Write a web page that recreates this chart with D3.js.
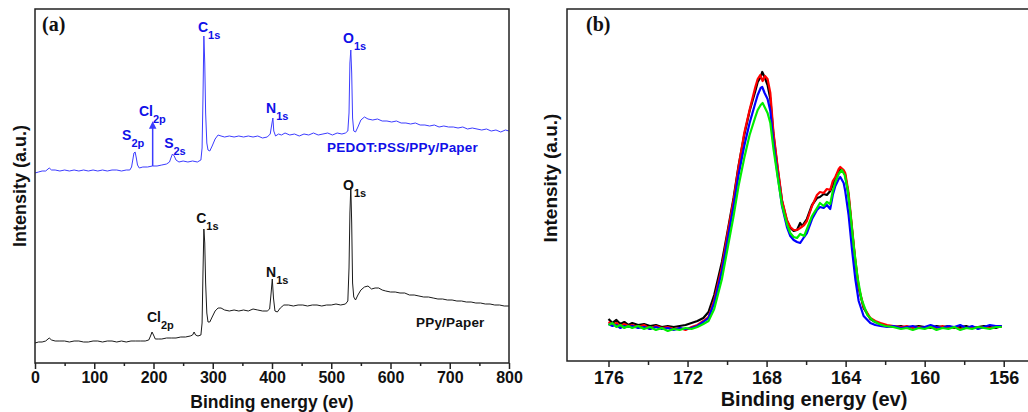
<!DOCTYPE html>
<html>
<head>
<meta charset="utf-8">
<script src="https://cdnjs.cloudflare.com/ajax/libs/d3/7.8.5/d3.min.js"></script>
<style>
  body { margin: 0; background: #fff; }
</style>
</head>
<body>
<div id="chart"></div>
<script>
var width = 1028;
var height = 412;
var sans = "'Liberation Sans', Arial, sans-serif";
var serif = "'Liberation Serif', 'Times New Roman', serif";

// ---- panel (a): survey spectra, [binding energy, intensity a.u.]
var pedotSurvey = [[0,190],[6,191],[12,192],[18,192],[24,195],[28,193],[34,193],[42,192],[50,193],[58,192],[66,193],[74,192],[82,193],[90,192],[98,193],[106,192],[114,193],[122,192],[130,193],[138,193],[146,192],[154,193],[160,193],[163,196],[165,203],[167,210],[169,211],[171,205],[173,198],[176,195],[182,196],[190,196],[198,197],[206,197],[214,198],[222,199],[227,201],[230,206],[232,209],[235,207],[238,203],[243,201],[250,202],[258,201],[266,202],[274,201],[280,203],[282,215],[283.5,265],[285,327],[286.5,300],[288,250],[290,220],[292,213],[295,212],[299,217],[304,224],[309,228],[314,227],[320,226],[328,227],[336,226],[344,227],[352,226],[360,227],[368,226],[376,227],[384,225],[392,226],[397,229],[400,240],[401.5,245],[403,232],[406,227],[411,229],[416,228],[422,230],[430,228],[438,229],[446,227],[454,229],[462,228],[470,230],[478,228],[486,229],[494,230],[502,228],[510,230],[518,229],[524,230],[528,232],[530,250],[531.5,300],[533,313],[534.5,290],[536,245],[538,232],[541,231],[545,236],[550,243],[556,246],[562,244],[570,243],[578,244],[586,242],[594,242],[602,241],[610,242],[618,240],[626,240],[634,239],[642,240],[650,238],[658,238],[666,237],[674,238],[682,236],[690,237],[698,236],[706,236],[714,235],[722,236],[730,234],[738,235],[746,234],[754,233],[762,234],[770,232],[778,233],[786,231],[794,233],[800,232]];

var ppySurvey = [[0,20],[6,21],[12,21],[18,22],[24,25],[28,23],[34,22],[42,22],[50,22],[58,21],[66,22],[74,22],[82,21],[90,21],[98,22],[106,22],[114,21],[122,22],[130,22],[138,21],[146,22],[154,21],[162,22],[170,22],[178,22],[186,22],[192,23],[195,27],[197.5,31],[200,28],[203,24],[208,24],[214,24],[222,25],[230,25],[238,25],[246,26],[254,26],[262,27],[266,28],[268.5,31],[271,28],[275,27],[280,28],[282,40],[283.5,90],[285,134],[286.5,120],[288,80],[290,50],[292,41],[295,41],[299,46],[304,52],[309,55],[314,55],[320,53],[328,52],[336,53],[344,52],[352,53],[360,52],[368,54],[376,53],[384,52],[392,52],[396,54],[398.5,70],[400.5,84],[402.5,65],[405,52],[409,51],[414,55],[420,58],[428,58],[436,57],[444,58],[452,58],[460,57],[468,58],[476,58],[484,57],[492,58],[500,58],[508,59],[516,58],[524,59],[528,62],[530,95],[531.5,150],[533,176],[534.5,140],[536,80],[538,66],[541,63],[545,68],[550,73],[556,76],[562,77],[568,74],[574,75],[580,75],[586,73],[592,72],[600,71],[608,71],[616,70],[624,70],[632,68],[640,68],[648,67],[656,66],[664,66],[672,65],[680,64],[688,64],[696,63],[704,63],[712,62],[720,62],[728,61],[736,61],[744,60],[752,60],[760,59],[768,59],[776,58],[784,58],[792,57],[800,57]];

// peak labels: [main, subscript, energy, intensity, series]
var peakLabels = [
  ["C", "1s", 275, 331, "pedot"],
  ["O", "1s", 520, 320, "pedot"],
  ["N", "1s", 390, 250, "pedot"],
  ["Cl", "2p", 175.5, 247, "pedot"],
  ["S", "2p", 147, 223, "pedot"],
  ["S", "2s", 218, 215, "pedot"],
  ["C", "1s", 272, 140, "ppy"],
  ["N", "1s", 390, 86, "ppy"],
  ["Cl", "2p", 189, 41, "ppy"],
  ["O", "1s", 520, 173, "ppy"]
];
var sampleNames = [["PEDOT:PSS/PPy/Paper", 493, 211, "pedot"], ["PPy/Paper", 643, 36, "ppy"]];
var surveyTicks = [0, 100, 200, 300, 400, 500, 600, 700, 800];

// ---- panel (b): S 2p high resolution, [binding energy, intensity a.u.]
var s2pBlack = [[176.0,42],[175.8,38],[175.6,41],[175.4,37],[175.2,39],[175.0,36],[174.8,38],[174.5,36],[174.2,37],[173.9,35],[173.6,36],[173.3,34],[173.0,35],[172.7,34],[172.4,35],[172.1,36],[171.8,38],[171.5,40],[171.2,43],[170.94,49],[170.65,66],[170.26,99],[169.97,130],[169.67,163],[169.42,195],[169.13,226],[168.86,250],[168.57,270],[168.45,279],[168.3,284],[168.22,289],[168.1,284],[167.95,276],[167.81,262],[167.65,226],[167.44,192],[167.22,160],[166.97,140],[166.8,133],[166.63,130],[166.46,131],[166.3,138],[166.2,135],[165.96,142],[165.7,156],[165.45,163],[165.3,164],[165.11,167],[164.95,166],[164.78,170],[164.65,176],[164.52,183],[164.35,190],[164.27,192],[164.1,189],[164.02,186],[163.85,165],[163.68,132],[163.51,99],[163.34,73],[163.09,53],[162.75,42],[162.5,39],[162.24,37],[161.9,35],[161.57,34],[161.2,35],[160.9,33],[160.6,34],[160.3,35],[160.0,34],[159.7,33],[159.4,35],[159.1,34],[158.8,35],[158.5,33],[158.2,34],[157.9,35],[157.6,33],[157.3,34],[157.0,35],[156.7,34],[156.4,33],[156.1,35]];

var s2pRed = [[176.0,39],[175.8,36],[175.6,38],[175.4,35],[175.2,37],[175.0,35],[174.8,36],[174.5,34],[174.2,36],[173.9,32],[173.6,35],[173.3,33],[173.0,34],[172.7,32],[172.4,33],[172.1,31],[171.8,34],[171.5,36],[171.2,40],[170.94,44],[170.65,61],[170.26,94],[169.97,128],[169.67,161],[169.42,194],[169.13,228],[168.86,251],[168.57,274],[168.45,282],[168.32,286],[168.2,280],[168.08,285],[167.95,282],[167.81,268],[167.65,228],[167.44,194],[167.22,161],[166.97,141],[166.8,134],[166.63,131],[166.46,131],[166.3,133],[166.1,136],[165.96,140],[165.7,155],[165.45,166],[165.3,169],[165.11,168],[164.95,172],[164.78,171],[164.65,180],[164.52,184],[164.35,192],[164.27,194],[164.1,191],[164.02,188],[163.85,168],[163.68,134],[163.51,101],[163.34,74],[163.09,54],[162.75,43],[162.5,40],[162.24,38],[161.9,36],[161.57,35],[161.2,34],[160.9,35],[160.6,33],[160.3,34],[160.0,33],[159.7,34],[159.4,33],[159.1,35],[158.8,33],[158.5,34],[158.2,32],[157.9,33],[157.6,34],[157.3,33],[157.0,34],[156.7,33],[156.4,34],[156.1,34]];

var s2pBlue = [[176.0,37],[175.8,35],[175.6,36],[175.4,33],[175.2,35],[175.0,34],[174.8,35],[174.5,33],[174.2,34],[173.9,32],[173.6,34],[173.3,32],[173.0,33],[172.7,31],[172.4,33],[172.1,32],[171.8,33],[171.5,35],[171.2,39],[170.94,43],[170.65,58],[170.26,90],[169.97,122],[169.67,155],[169.42,186],[169.13,215],[168.86,238],[168.57,258],[168.45,266],[168.3,273],[168.22,274],[168.1,268],[167.95,262],[167.81,250],[167.65,218],[167.44,186],[167.22,155],[166.97,134],[166.8,125],[166.63,121],[166.46,119],[166.3,118],[166.1,124],[165.96,128],[165.7,142],[165.45,151],[165.3,154],[165.11,153],[164.95,156],[164.78,152],[164.65,166],[164.52,175],[164.35,182],[164.27,184],[164.1,178],[164.02,170],[163.85,146],[163.68,112],[163.51,82],[163.34,60],[163.09,45],[162.75,38],[162.5,36],[162.24,35],[161.9,34],[161.57,35],[161.2,33],[160.9,34],[160.6,35],[160.3,33],[160.0,34],[159.7,36],[159.4,34],[159.1,33],[158.8,35],[158.5,34],[158.2,36],[157.9,33],[157.6,35],[157.3,32],[157.0,34],[156.7,36],[156.4,35],[156.1,35]];

var s2pGreen = [[176.0,36],[175.8,38],[175.6,34],[175.4,36],[175.2,33],[175.0,35],[174.8,33],[174.5,35],[174.2,32],[173.9,34],[173.6,31],[173.3,33],[173.0,30],[172.7,32],[172.4,31],[172.1,33],[171.8,32],[171.5,34],[171.2,37],[170.94,40],[170.65,52],[170.26,82],[169.97,113],[169.67,145],[169.42,175],[169.13,203],[168.86,226],[168.57,244],[168.45,251],[168.3,256],[168.2,258],[168.1,254],[167.95,248],[167.81,238],[167.65,212],[167.44,184],[167.22,156],[166.97,137],[166.8,128],[166.63,124],[166.46,123],[166.3,127],[166.1,125],[165.96,132],[165.7,145],[165.45,153],[165.3,158],[165.11,155],[164.95,159],[164.78,157],[164.65,170],[164.52,179],[164.35,187],[164.2,191],[164.05,186],[163.9,172],[163.75,146],[163.58,113],[163.4,84],[163.2,62],[162.9,46],[162.6,40],[162.3,37],[162.0,35],[161.6,34],[161.2,32],[160.9,33],[160.6,31],[160.3,33],[160.0,32],[159.7,34],[159.4,31],[159.1,33],[158.8,32],[158.5,34],[158.2,31],[157.9,33],[157.6,32],[157.3,34],[157.0,33],[156.7,32],[156.4,34],[156.1,34]];

var s2pTicks = [176, 172, 168, 164, 160, 156];

var svg = d3.select("#chart").append("svg")
  .attr("width", width)
  .attr("height", height)
  .style("font-family", sans)
  .style("font-weight", "bold")

svg.append("rect").attr("width", width).attr("height", height).attr("fill", "#fff")

var colors = { pedot: "#3c3cff", ppy: "#1a1a1a" }
var labelColors = { pedot: "#1010e8", ppy: "#111" }

// ================= panel (a)
var xa = d3.scaleLinear().domain([0, 800]).range([35, 509])
var ya = d3.scaleLinear().domain([0, 354]).range([363, 9])
var lineA = d3.line().x(function(d) { return xa(d[0]) }).y(function(d) { return ya(d[1]) })

var pa = svg.append("g")

pa.append("path").datum(ppySurvey)
  .attr("d", lineA).attr("fill", "none").attr("stroke", colors.ppy).attr("stroke-width", 1)
pa.append("path").datum(pedotSurvey)
  .attr("d", lineA).attr("fill", "none").attr("stroke", colors.pedot).attr("stroke-width", 1)

// Cl 2p arrow on the PEDOT curve
svg.append("defs").append("marker")
  .attr("id", "arrowBlue")
  .attr("viewBox", "0 0 10 10")
  .attr("refX", 5).attr("refY", 5)
  .attr("markerWidth", 5).attr("markerHeight", 6)
  .attr("orient", "auto")
  .append("path").attr("d", "M0,0 L10,5 L0,10 z").attr("fill", colors.pedot)

pa.append("line")
  .attr("x1", xa(198.6)).attr("x2", xa(198.6))
  .attr("y1", ya(197)).attr("y2", ya(238))
  .attr("stroke", colors.pedot).attr("stroke-width", 1.5)
  .attr("marker-end", "url(#arrowBlue)")

var lab = pa.selectAll("text.peak").data(peakLabels).enter().append("text")
  .attr("class", "peak")
  .attr("x", function(d) { return xa(d[2]) })
  .attr("y", function(d) { return ya(d[3]) })
  .attr("fill", function(d) { return labelColors[d[4]] })
  .attr("font-size", "14px")
lab.append("tspan").text(function(d) { return d[0] })
lab.append("tspan").attr("dy", 7).attr("font-size", "11px").text(function(d) { return d[1] })

pa.selectAll("text.sample").data(sampleNames).enter().append("text")
  .attr("class", "sample")
  .attr("x", function(d) { return xa(d[1]) })
  .attr("y", function(d) { return ya(d[2]) })
  .attr("fill", function(d) { return labelColors[d[3]] })
  .attr("font-size", "13.5px")
  .attr("letter-spacing", "0.2px")
  .text(function(d) { return d[0] })

pa.append("rect")
  .attr("x", 35).attr("y", 9).attr("width", 474).attr("height", 354)
  .attr("fill", "none").attr("stroke", "#222").attr("stroke-width", 1.5)

var axA = pa.append("g").attr("transform", "translate(0,363)")
  .call(d3.axisBottom(xa).tickValues(surveyTicks).tickSize(6).tickSizeOuter(0).tickPadding(3))
axA.select(".domain").remove()
axA.selectAll("line").attr("stroke", "#222").attr("stroke-width", 1.5)
axA.selectAll("text").attr("font-size", "16px").attr("fill", "#111")
  .attr("font-family", null).attr("font-weight", "bold")

var axAm = pa.append("g").attr("transform", "translate(0,363)")
  .call(d3.axisBottom(xa).tickValues(d3.range(50, 800, 100)).tickSize(3).tickFormat(""))
axAm.select(".domain").remove()
axAm.selectAll("line").attr("stroke", "#222").attr("stroke-width", 1.5)

pa.append("text").attr("x", 272).attr("y", 408).attr("text-anchor", "middle")
  .attr("font-size", "17.5px").attr("fill", "#111").text("Binding energy (ev)")
pa.append("text").attr("transform", "translate(26,186) rotate(-90)").attr("text-anchor", "middle")
  .attr("font-size", "18px").attr("fill", "#111").text("Intensity (a.u.)")
pa.append("text").attr("x", 42).attr("y", 31)
  .style("font-family", serif)
  .attr("font-size", "20px").attr("fill", "#111").text("(a)")

// ================= panel (b)
var xb = d3.scaleLinear().domain([178.1, 153.0]).range([567, 1063])
var yb = d3.scaleLinear().domain([0, 352]).range([361, 9])
var lineB = d3.line().x(function(d) { return xb(d[0]) }).y(function(d) { return yb(d[1]) })

var pb = svg.append("g")
var s2pSeries = [[s2pBlack, "#000000"], [s2pRed, "#ff0000"], [s2pBlue, "#0000ff"], [s2pGreen, "#00ee00"]]
pb.selectAll("path.s2p").data(s2pSeries).enter().append("path")
  .attr("class", "s2p")
  .attr("d", function(d) { return lineB(d[0]) })
  .attr("fill", "none")
  .attr("stroke", function(d) { return d[1] })
  .attr("stroke-width", 2.2)
  .attr("stroke-linejoin", "round")

pb.append("rect")
  .attr("x", 567).attr("y", 9).attr("width", 496).attr("height", 352)
  .attr("fill", "none").attr("stroke", "#222").attr("stroke-width", 1.5)

var axB = pb.append("g").attr("transform", "translate(0,361)")
  .call(d3.axisBottom(xb).tickValues(s2pTicks).tickSize(6).tickSizeOuter(0).tickPadding(4))
axB.select(".domain").remove()
axB.selectAll("line").attr("stroke", "#222").attr("stroke-width", 1.5)
axB.selectAll("text").attr("font-size", "18px").attr("fill", "#111")
  .attr("font-family", null).attr("font-weight", "bold")

var axBm = pb.append("g").attr("transform", "translate(0,361)")
  .call(d3.axisBottom(xb).tickValues(d3.range(158, 178, 4)).tickSize(4).tickFormat(""))
axBm.select(".domain").remove()
axBm.selectAll("line").attr("stroke", "#222").attr("stroke-width", 1.5)

pb.append("text").attr("x", 814).attr("y", 406).attr("text-anchor", "middle")
  .attr("font-size", "20px").attr("fill", "#111").text("Binding energy (ev)")
pb.append("text").attr("transform", "translate(557,178) rotate(-90)").attr("text-anchor", "middle")
  .attr("font-size", "19px").attr("fill", "#111").text("Intensity (a.u.)")
pb.append("text").attr("x", 586).attr("y", 31)
  .style("font-family", serif)
  .attr("font-size", "20px").attr("fill", "#111").text("(b)")
</script>
</body>
</html>
